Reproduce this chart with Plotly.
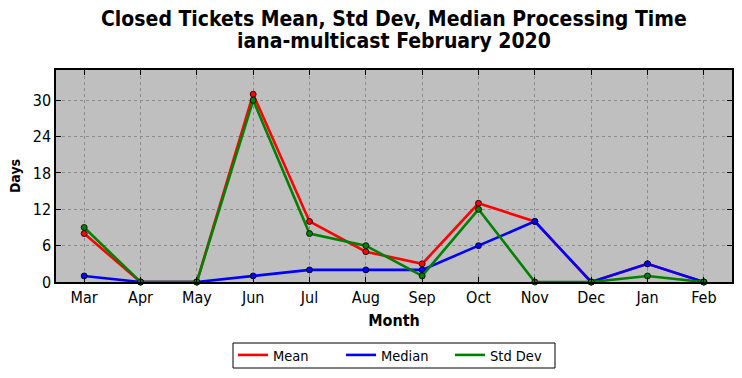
import plotly.graph_objects as go

months = ["Mar", "Apr", "May", "Jun", "Jul", "Aug", "Sep", "Oct", "Nov", "Dec", "Jan", "Feb"]
mean_vals = [8, 0, 0, 31, 10, 5, 3, 13, 10, 0, 3, 0]
median_vals = [1, 0, 0, 1, 2, 2, 2, 6, 10, 0, 3, 0]
std_vals = [9, 0, 0, 30, 8, 6, 1, 12, 0, 0, 1, 0]
y_ticks = [0, 6, 12, 18, 24, 30]
title_lines = ["Closed Tickets Mean, Std Dev, Median Processing Time", "iana-multicast February 2020"]

series = [("Mean", mean_vals, "#ff0000", 63), ("Median", median_vals, "#0000ff", 64), ("Std Dev", std_vals, "#008000", 53)]

fig = go.Figure()
xs = list(range(len(months)))
for name, vals, col, lw in series:
    fig.add_trace(go.Scatter(
        x=xs, y=vals, mode="lines+markers", name=name, showlegend=False,
        line=dict(color=col, width=2.6),
        marker=dict(color=col, size=6, line=dict(color="black", width=0.8)),
        cliponaxis=False,
    ))
for name, vals, col, lw in series:
    fig.add_trace(go.Scatter(
        x=[None], y=[None], mode="lines", name=name, legendwidth=lw,
        line=dict(color=col, width=2.6),
    ))

font = "DejaVu Sans Condensed, DejaVu Sans, sans-serif"
PH, PW, ML, MT = 212, 676, 56, 70
annotations = []
for txt, ypx in zip(title_lines, [19, 41]):
    annotations.append(dict(
        text="<b>" + txt + "</b>", xref="paper", yref="paper", x=0.5, y=(PH + MT - ypx) / PH,
        xanchor="center", yanchor="middle", showarrow=False,
        font=dict(family=font, size=21, color="black"),
    ))

# legend frame (pixel box 233..555 x 343..368)
legend_frame = dict(
    type="rect", xref="paper", yref="paper",
    x0=(233 - ML) / PW, x1=(555 - ML) / PW,
    y0=(PH + MT - 368) / PH, y1=(PH + MT - 343) / PH,
    line=dict(color="black", width=1), fillcolor="white", layer="below",
)

fig.update_layout(
    width=742, height=378,
    margin=dict(l=ML, r=10, t=MT, b=96),
    paper_bgcolor="white", plot_bgcolor="#bfbfbf",
    font=dict(family=font, size=16, color="black"),
    xaxis=dict(
        range=[-0.5, 11.5], tickmode="array", tickvals=xs, ticktext=months,
        showgrid=True, gridcolor="#8c8c8c", griddash="dot", gridwidth=1,
        ticks="inside", ticklen=5, tickcolor="black", mirror="ticks",
        showline=True, linecolor="black", linewidth=1.5, zeroline=False,
        automargin=False,
        title=dict(text="<b>Month</b>", font=dict(size=16), standoff=9),
        tickfont=dict(size=16),
    ),
    yaxis=dict(
        range=[0, 35], tickmode="array", tickvals=y_ticks,
        showgrid=True, gridcolor="#8c8c8c", griddash="dot", gridwidth=1,
        ticks="inside", ticklen=5, tickcolor="black", mirror="ticks",
        showline=True, linecolor="black", linewidth=1.5, zeroline=False,
        automargin=False,
        title=dict(text="<b>Days</b>", font=dict(size=14), standoff=9),
        tickfont=dict(size=16),
    ),
    legend=dict(
        orientation="h", x=(233 - ML) / PW, xanchor="left",
        yref="container", y=(378 - 339) / 378, yanchor="top",
        borderwidth=0, bgcolor="rgba(0,0,0,0)",
        font=dict(size=14.5), itemwidth=30,
    ),
    annotations=annotations,
    shapes=[legend_frame],
)

fig.write_html("out.html", config={"displayModeBar": False},
               post_script="document.body.style.margin='0';")
